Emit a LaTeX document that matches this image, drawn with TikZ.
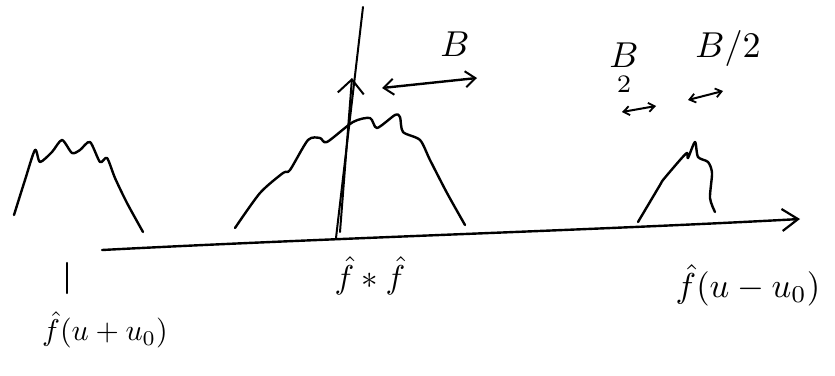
\documentclass[tikz,border=0pt]{standalone}
\usetikzlibrary{arrows.meta}
\begin{document}
\begin{tikzpicture}[x=1pt,y=-1pt,line cap=round,line join=round,
  pen/.style={line width=2.4pt},
  thinpen/.style={line width=2pt},
  bump/.style={pen, smooth, tension=0.45},
  lab/.style={inner sep=0pt, scale=3},
  blab/.style={inner sep=0pt, scale=3.6},
  barb/.style={-{Straight Barb[length=10pt,width=16pt,line width=2pt]}},
  dbarb/.style={{Straight Barb[length=10pt,width=16pt,line width=2pt]}-{Straight Barb[length=10pt,width=16pt,line width=2pt]}},
  sbarb/.style={{Straight Barb[length=6pt,width=9pt,line width=1.8pt]}-{Straight Barb[length=6pt,width=9pt,line width=1.8pt]}}]
\useasboundingbox (0,0) rectangle (835,375);

% frequency axis
\coordinate (a0) at (102,250);
\coordinate (a1) at (800,219);
\draw[pen, -{Straight Barb[length=16pt,width=22pt,line width=2.2pt]}]
  (a0) .. controls (330,238) and (600,230) .. (a1);

% left copy
\draw[bump] plot coordinates {(14,215) (25,180) (35,150) (40,162) (52,152) (62,140) (72,153) (80,150) (90,142) (100,162) (107,158) (115,178) (127,203) (143,232)};
\coordinate (t0) at (67,263);
\coordinate (t1) at (67,293);
\draw[pen] (t0) -- (t1);
\node[lab] (lleft) at (105,330) {$\hat f(u+u_0)$};

% central copy
\draw[bump] plot coordinates {(235,228) (260,193) (283,173) (290,170) (308,140) (320,138) (327,142) (353,122) (370,118) (377,128) (395,115) (400,117) (403,132) (420,140) (430,160) (447,193) (465,225)};
\coordinate (v0) at (336,238);
\coordinate (v1) at (363,7);
\draw[thinpen] (v0) -- (v1);
\coordinate (d0) at (340,232);
\coordinate (d1) at (352,78);
\draw[thinpen, -{Straight Barb[length=14pt,width=26pt,line width=2pt]}] (d0) -- (d1);
\node[lab, scale=1.1] (lmid) at (370,276) {$\hat f * \hat f$};

% bandwidth B
\coordinate (b0) at (382,88);
\coordinate (b1) at (477,78);
\draw[pen, dbarb] (b0) -- (b1);
\node[blab] (lB) at (455,44) {$B$};

% right copy
\draw[bump] plot coordinates {(638,222) (660,185) (663,180) (680,160) (687,153) (688,158) (695,142) (698,157) (708,162) (712,173) (710,198) (715,212)};
\node[lab, scale=1.15] (lright) at (748,285) {$\hat f(u-u_0)$};

% half bandwidths
\node[blab, align=center] (lBh) at (624,68) {$B$\\[-5pt]{\scriptsize $2$}};
\coordinate (c0) at (622,112);
\coordinate (c1) at (656,106);
\draw[thinpen, sbarb] (c0) -- (c1);
\node[blab] (lB2) at (728,48) {$B/2$};
\coordinate (e0) at (688,100);
\coordinate (e1) at (723,91);
\draw[thinpen, sbarb] (e0) -- (e1);
\end{tikzpicture}
\end{document}
